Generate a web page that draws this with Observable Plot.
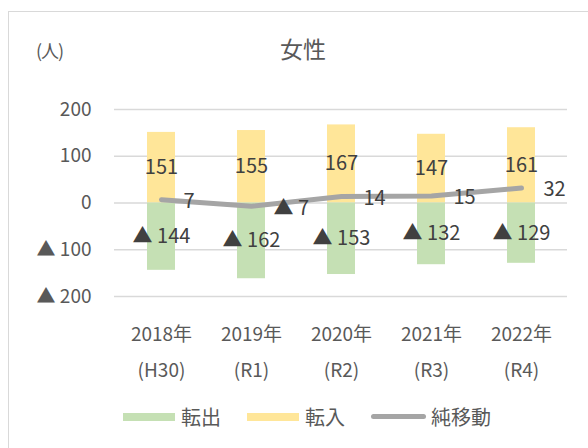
<!DOCTYPE html>
<html><head><meta charset="utf-8">
<script src="https://cdn.jsdelivr.net/npm/d3@7"></script>
<script src="https://cdn.jsdelivr.net/npm/@observablehq/plot@0.6"></script>
<style>
body{margin:0;background:#fff;font-family:"Noto Sans CJK JP","Noto Sans",sans-serif;}
#wrap{position:relative;width:588px;height:448px;overflow:hidden;}
#frame{position:absolute;left:8px;top:11px;width:600px;height:460px;border-top:1px solid #D9D9D9;border-left:1px solid #D9D9D9;}
#title{position:absolute;left:0;width:606px;top:31px;text-align:center;font-size:23px;color:#595959;}
#unit{position:absolute;left:36px;top:37px;font-size:18px;color:#595959;letter-spacing:-1px;}
#legend{position:absolute;top:402px;left:123px;font-size:20px;color:#595959;display:flex;align-items:center;}
#legend span.sw{display:inline-block;width:52px;height:8px;margin-right:6px;}
#legend span.ln{display:inline-block;width:55px;height:5px;border-radius:3px;margin-right:5px;background:#A5A5A5;}
#legend span.lab{margin-right:26px;}
#plot{position:absolute;left:0;top:0;}
</style></head>
<body><div id="wrap"><div id="frame"></div><div id="plot"></div>
<div id="title">女性</div><div id="unit">(人)</div>
<div id="legend"><span class="sw" style="background:#C5E0B4"></span><span class="lab">転出</span><span class="sw" style="background:#FFE699"></span><span class="lab">転入</span><span class="ln"></span><span>純移動</span></div>
</div>
<script>
const years = ["2018年\n(H30)", "2019年\n(R1)", "2020年\n(R2)", "2021年\n(R3)", "2022年\n(R4)"];
const inflow = [151, 155, 167, 147, 161];
const outflow = [-144, -162, -153, -132, -129];
const net = [7, -7, 14, 15, 32];
const yTicks = [200, 100, 0, -100, -200];

const fmt = v => v < 0 ? "▲ " + Math.abs(v) : String(v);
const inData = years.map((y, i) => ({year: y, v: inflow[i]}));
const outData = years.map((y, i) => ({year: y, v: outflow[i]}));
const netData = years.map((y, i) => ({year: y, v: net[i]}));

const chart = Plot.plot({
  width: 588, height: 448,
  marginTop: 109, marginBottom: 152, marginLeft: 114, marginRight: 21,
  style: {fontFamily: "'Noto Sans CJK JP','Noto Sans',sans-serif", background: "transparent"},
  x: {type: "band", domain: years, paddingInner: 0.69, paddingOuter: 0.345, label: null},
  y: {domain: [-200, 200], label: null},
  marks: [
    Plot.gridY(yTicks, {stroke: "#D9D9D9", strokeOpacity: 1, strokeWidth: 1.3}),
    Plot.barY(inData, {x: "year", y: "v", fill: "#FFE699"}),
    Plot.barY(outData, {x: "year", y: "v", fill: "#C5E0B4"}),
    Plot.line(netData, {x: "year", y: "v", stroke: "#A5A5A5", strokeWidth: 5, strokeLinecap: "round", strokeLinejoin: "round"}),
    Plot.text(inData, {x: "year", y: d => d.v / 2, text: d => fmt(d.v), fill: "#404040", fontSize: 20}),
    Plot.text(outData, {x: "year", y: d => d.v / 2, text: d => fmt(d.v), fill: "#404040", fontSize: 20}),
    Plot.text(netData, {x: "year", y: "v", text: d => fmt(d.v), fill: "#404040", fontSize: 20, textAnchor: "start", dx: 22, dy: 2}),
    Plot.axisY(yTicks, {tickSize: 0, tickPadding: 23, tickFormat: fmt, fontSize: 19, fill: "#595959"}),
    Plot.axisX({tickSize: 0, tickPadding: 20, fontSize: 19, fill: "#595959", lineHeight: 1.85})
  ]
});
document.getElementById("plot").appendChild(chart);
</script></body></html>
